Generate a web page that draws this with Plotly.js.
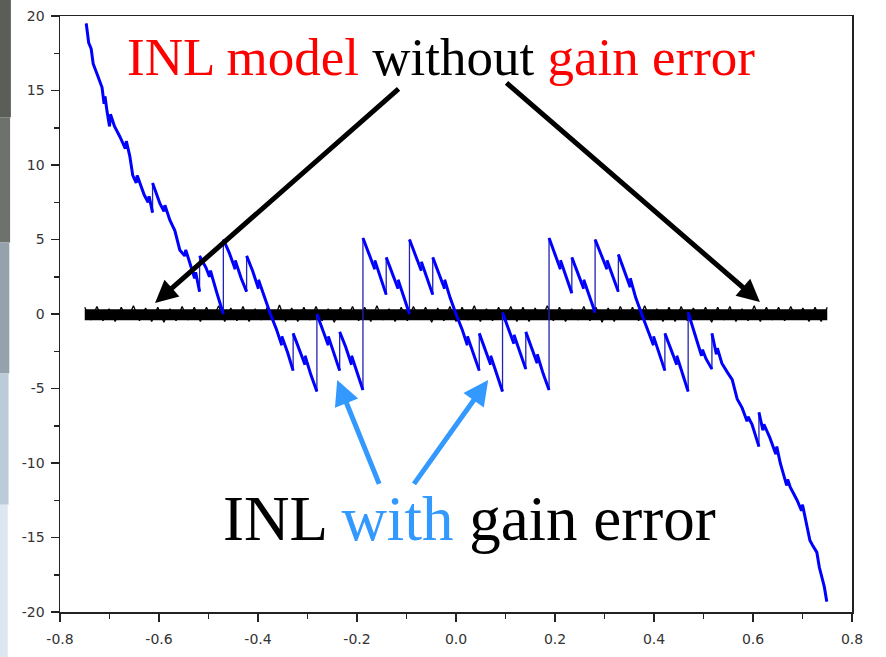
<!DOCTYPE html>
<html>
<head>
<meta charset="utf-8">
<script src="https://cdn.plot.ly/plotly-3.0.1.min.js"></script>
<style>html,body{margin:0;padding:0;background:#fff;}#chart{width:886px;height:657px;}</style>
</head>
<body>
<div id="chart"></div>
<script>
// INL with gain error (blue) – vertices
const blueX = [-0.747,-0.742,-0.737,-0.733,-0.724,-0.715,-0.711,-0.709,-0.705,-0.700,-0.698,-0.690,-0.679,-0.668,-0.666,-0.659,-0.653,-0.646,-0.644,-0.630,-0.622,-0.620,-0.613,-0.613,-0.605,-0.598,-0.590,-0.588,-0.578,-0.568,-0.558,-0.548,-0.546,-0.537,-0.528,-0.526,-0.518,-0.518,-0.505,-0.498,-0.496,-0.483,-0.470,-0.470,
-0.458,-0.446,-0.446,-0.434,-0.423,-0.423,-0.411,-0.399,-0.399,-0.387,-0.375,-0.363,-0.352,-0.352,-0.340,-0.329,-0.329,-0.317,-0.305,-0.305,-0.293,-0.281,-0.281,
-0.270,-0.258,-0.258,-0.246,-0.235,-0.235,-0.223,-0.211,-0.211,-0.199,-0.188,-0.188,-0.176,-0.164,-0.164,-0.152,-0.141,-0.141,-0.129,-0.117,-0.117,-0.105,-0.094,-0.094,
-0.082,-0.070,-0.070,-0.058,-0.047,-0.047,-0.035,-0.023,-0.023,-0.012,0.000,0.012,0.023,0.023,0.035,0.047,0.047,0.058,0.070,0.070,0.082,0.094,0.094,
0.105,0.117,0.117,0.129,0.141,0.141,0.152,0.164,0.164,0.176,0.188,0.188,0.199,0.211,0.211,0.223,0.234,0.234,0.246,0.258,0.258,0.270,0.281,0.281,
0.293,0.305,0.305,0.317,0.328,0.328,0.340,0.352,0.352,0.363,0.375,0.387,0.399,0.399,0.411,0.422,0.422,0.434,0.446,0.446,0.458,0.469,0.469,
0.483,0.496,0.498,0.505,0.517,0.517,0.526,0.528,0.537,0.548,0.558,0.568,0.578,0.588,0.590,0.598,0.605,0.612,0.612,0.620,0.622,0.634,0.646,0.648,0.655,0.661,0.668,0.670,0.675,0.689,0.698,0.700,0.705,0.715,0.720,0.729,0.734,0.739,0.744,0.749];
const blueY = [19.5,18.2,17.8,16.8,16.0,15.2,14.1,14.6,13.6,12.6,13.4,12.6,11.9,11.1,11.6,10.6,9.3,8.8,9.3,8.0,7.5,7.9,6.8,8.8,8.0,7.4,6.9,7.3,6.3,5.6,4.3,3.9,4.3,3.4,2.4,2.8,1.5,3.9,3.1,2.5,2.9,1.4,0.0,5.0,
4.1,3.0,3.6,2.4,1.5,3.9,2.9,1.7,2.3,1.1,0.0,-1.0,-2.1,-1.5,-2.6,-3.8,-1.3,-2.3,-3.4,-2.8,-4.1,-5.2,0.0,
-1.0,-2.1,-1.5,-2.7,-3.8,-1.2,-2.2,-3.4,-2.8,-4.0,-5.1,5.1,4.1,3.0,3.6,2.4,1.3,3.8,2.8,1.7,2.3,1.1,0.0,5.0,
4.0,2.9,3.5,2.3,1.3,3.8,2.8,1.7,2.3,1.1,0.0,-1.0,-2.1,-1.5,-2.7,-3.8,-1.3,-2.3,-3.4,-2.8,-4.0,-5.2,0.1,
-0.9,-2.0,-1.4,-2.6,-3.7,-1.2,-2.2,-3.3,-2.7,-4.0,-5.1,5.1,4.1,3.0,3.6,2.5,1.4,3.8,2.8,1.7,2.3,1.1,0.1,5.0,
4.0,3.0,3.6,2.5,1.5,4.0,2.9,1.8,2.4,1.1,0.0,-1.0,-2.1,-1.5,-2.7,-3.8,-1.3,-2.3,-3.4,-2.8,-4.0,-5.2,0.1,
-1.4,-2.8,-2.4,-3.0,-3.7,-1.3,-2.7,-2.3,-3.3,-3.9,-4.4,-5.7,-6.3,-7.2,-6.9,-7.4,-8.1,-8.9,-6.6,-7.8,-7.4,-8.3,-9.4,-8.9,-10.0,-10.7,-11.5,-11.1,-11.6,-12.5,-13.2,-12.8,-13.6,-15.2,-15.5,-16.0,-17.0,-17.7,-18.3,-19.3];

// INL model without gain error (black noise band around zero)
const bandX = [-0.75, 0.75];
const bandY = [-0.05, -0.05];
const noiseY = [0.45,-0.4,0.5,-0.45,0.35,-0.5,0.45,-0.35,0.55,-0.45,0.4,-0.5,0.45,-0.55,0.35,-0.45,0.5,-0.4,0.45,-0.5,0.45,-0.35,0.55,-0.5,0.4,-0.45,0.5,-0.5,0.35,-0.4,0.45,-0.45,0.6,-0.5,0.4,-0.5,0.45,-0.4,0.5,-0.45,0.35,-0.55,0.45,-0.35,0.5,-0.45,0.45,-0.5,0.55,-0.4,0.35,-0.5,0.45,-0.45,0.5,-0.35,0.45,-0.55,0.4,-0.45,0.5,-0.5,0.45,-0.4,0.55,-0.5,0.35,-0.45,0.45,-0.4,0.5,-0.5,0.45,-0.5,0.4,-0.35,0.55,-0.45,0.45,-0.5,0.35,-0.4,0.5,-0.45,0.45,-0.55,0.4,-0.5,0.5,-0.35,0.45,-0.45,0.55,-0.4,0.35,-0.5,0.45,-0.5,0.5,-0.45,0.4,-0.35,0.45,-0.55,0.45,-0.4,0.5,-0.5,0.35,-0.45,0.55,-0.5,0.45,-0.4,0.45,-0.45,0.5,-0.35,0.4,-0.5,0.45,-0.5,0.45];

// ticks
const xTickVals = [-0.8,-0.6,-0.4,-0.2,0,0.2,0.4,0.6,0.8];
const xTickText = ['-0.8','-0.6','-0.4','-0.2','0.0','0.2','0.4','0.6','0.8'];
const yTickVals = [-20,-15,-10,-5,0,5,10,15,20];
const yTickText = ['-20','-15','-10','-5','0','5','10','15','20'];

// build
const noiseX = noiseY.map((_, i) => bandX[0] + (bandX[1]-bandX[0]) * i / (noiseY.length - 1));
const thickX = [], thickY = [];
for (let i = 0; i < blueX.length; i++) {
  if (i > 0 && blueX[i] === blueX[i-1]) { thickX.push(null); thickY.push(null); }
  thickX.push(blueX[i]); thickY.push(blueY[i]);
}

const traces = [
  {x: bandX, y: bandY, mode:'lines', line:{color:'#000', width:11}, hoverinfo:'skip'},
  {x: noiseX, y: noiseY, mode:'lines', line:{color:'#000', width:1.3}, hoverinfo:'skip'},
  {x: blueX, y: blueY, mode:'lines', line:{color:'#2323b5', width:1.3}, hoverinfo:'skip'},
  {x: thickX, y: thickY, mode:'lines', connectgaps:false, line:{color:'#0000ff', width:3}, hoverinfo:'skip'}
];

const tickFont = {family:'DejaVu Sans, Arial, sans-serif', size:14, color:'#333'};
const serif = 'Liberation Serif, Times New Roman, serif';

const layout = {
  width:886, height:657,
  margin:{l:60, r:34, t:16, b:45},
  paper_bgcolor:'#fff', plot_bgcolor:'#fff',
  showlegend:false,
  xaxis:{range:[-0.8,0.8], tickmode:'array', tickvals:xTickVals, ticktext:xTickText,
    ticks:'outside', ticklen:8, tickwidth:1.5, tickcolor:'#222', showgrid:false, zeroline:false,
    showline:true, linecolor:'#222', linewidth:1.5, mirror:true, tickfont:tickFont, ticklabelstandoff:6,
    minor:{dtick:0.1, tick0:0, ticks:'outside', ticklen:5, tickwidth:1.5, tickcolor:'#222', showgrid:false}},
  yaxis:{range:[-20,20], tickmode:'array', tickvals:yTickVals, ticktext:yTickText,
    ticks:'outside', ticklen:8, tickwidth:1.5, tickcolor:'#222', showgrid:false, zeroline:false,
    showline:true, linecolor:'#222', linewidth:1.5, mirror:true, tickfont:tickFont, ticklabelstandoff:3,
    minor:{dtick:2.5, tick0:0, ticks:'outside', ticklen:5, tickwidth:1.5, tickcolor:'#222', showgrid:false}},
  shapes:[
    {type:'rect', xref:'paper', yref:'paper', x0:-0.0758, x1:-0.0620, y0:0.83, y1:1.03, fillcolor:'#5b5e57', line:{width:0}},
    {type:'rect', xref:'paper', yref:'paper', x0:-0.0758, x1:-0.0630, y0:0.62, y1:0.83, fillcolor:'#6e726d', line:{width:0}},
    {type:'rect', xref:'paper', yref:'paper', x0:-0.0758, x1:-0.0640, y0:0.40, y1:0.62, fillcolor:'#95a1ab', line:{width:0}},
    {type:'rect', xref:'paper', yref:'paper', x0:-0.0758, x1:-0.0650, y0:0.18, y1:0.40, fillcolor:'#bccbd9', line:{width:0}},
    {type:'rect', xref:'paper', yref:'paper', x0:-0.0758, x1:-0.0660, y0:-0.08, y1:0.18, fillcolor:'#dde7f1', line:{width:0}}
  ],
  annotations:[
    {xref:'x', yref:'y', x:-0.030, y:17.25, xanchor:'center', yanchor:'middle', showarrow:false,
     text:'<span style="color:#ff0000">INL model</span> without <span style="color:#ff0000">gain error</span>',
     font:{family:serif, size:53, color:'#000'}},
    {xref:'x', yref:'y', x:0.028, y:-13.75, xanchor:'center', yanchor:'middle', showarrow:false,
     text:'INL <span style="color:#3399ff">with</span> gain error',
     font:{family:serif, size:63, color:'#000'}},
    {xref:'x', yref:'y', axref:'x', ayref:'y', x:-0.608, y:0.74, ax:-0.113, ay:15.2, text:'', showarrow:true,
     arrowhead:2, arrowsize:0.9, arrowwidth:5, arrowcolor:'#000', standoff:0, startstandoff:0},
    {xref:'x', yref:'y', axref:'x', ayref:'y', x:0.614, y:0.8, ax:0.099, ay:15.6, text:'', showarrow:true,
     arrowhead:2, arrowsize:0.9, arrowwidth:5, arrowcolor:'#000', standoff:0, startstandoff:0},
    {xref:'x', yref:'y', axref:'x', ayref:'y', x:-0.240, y:-4.43, ax:-0.154, ay:-11.5, text:'', showarrow:true,
     arrowhead:2, arrowsize:1, arrowwidth:5, arrowcolor:'#3399ff', standoff:0, startstandoff:0},
    {xref:'x', yref:'y', axref:'x', ayref:'y', x:0.065, y:-4.43, ax:-0.087, ay:-11.5, text:'', showarrow:true,
     arrowhead:2, arrowsize:1, arrowwidth:5, arrowcolor:'#3399ff', standoff:0, startstandoff:0}
  ]
};

Plotly.newPlot('chart', traces, layout, {staticPlot:true, displayModeBar:false});
</script>
</body>
</html>
